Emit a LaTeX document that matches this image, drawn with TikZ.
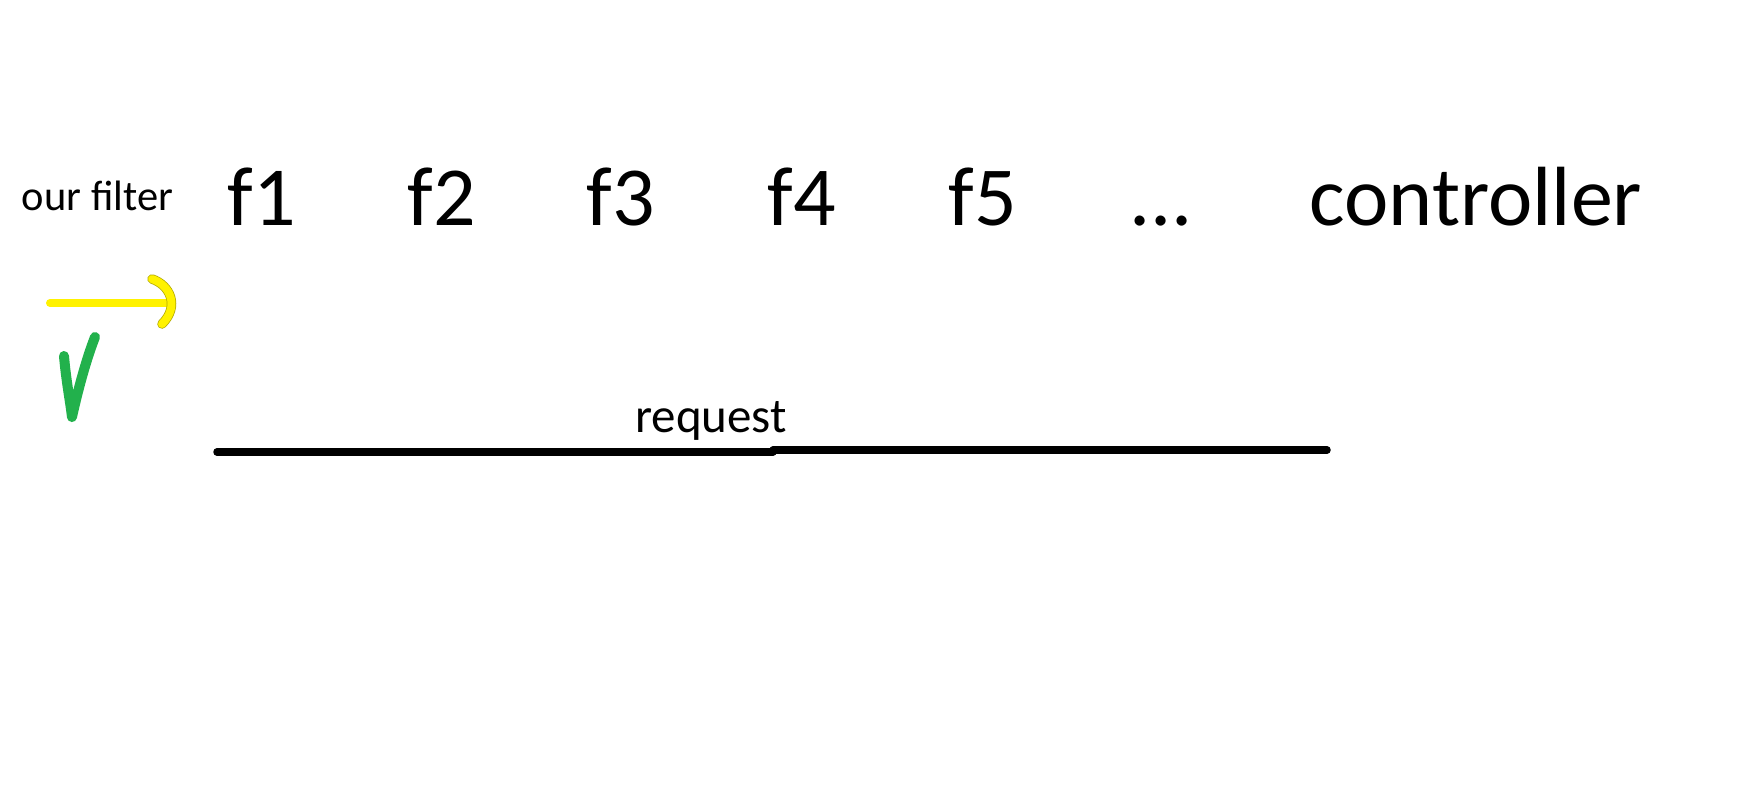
\documentclass[tikz,border=0pt]{standalone}
\usepackage{fontspec}
\setmainfont{Carlito}
\definecolor{pyellow}{RGB}{255,242,0}
\definecolor{pgreen}{RGB}{34,177,76}
\tikzset{
  lbl/.style={inner sep=0pt, anchor=base, font=\fontsize{84}{90}\selectfont},
  small/.style={inner sep=0pt, anchor=base, font=\fontsize{42.5}{48}\selectfont},
  req/.style={inner sep=0pt, anchor=base, font=\fontsize{49}{54}\selectfont},
  bar/.style={line width=7.5pt, line cap=round, black},
  hook/.style={line width=8pt, line cap=round, pyellow},
  tick/.style={line width=10pt, line cap=round, line join=round, pgreen}
}
\begin{document}
\begin{tikzpicture}[x=1pt,y=-1pt]
\useasboundingbox[fill=white] (0,0) rectangle (1761,804);
\node[small] (our) at (97.5,210) {our filter};
\node[lbl] (f1) at (262,225) {f1};
\node[lbl] (f2) at (442,225) {f2};
\node[lbl] (f3) at (621,225) {f3};
\node[lbl] (f4) at (802,225) {f4};
\node[lbl] (f5) at (983,225) {f5};
\node[lbl] (dots) at (1161,225) {...};
\node[lbl] (ctrl) at (1476,225) {controller};
\node[req] (request) at (711,432) {request};
% request line
\coordinate (r0) at (217,452);
\coordinate (r1) at (773,452);
\coordinate (r2) at (773,450);
\coordinate (r3) at (1327,450);
\draw[bar] (r0) -- (r1);
\draw[bar] (r2) -- (r3);
% yellow arrow
\coordinate (y0) at (50,303);
\coordinate (y1) at (170,303);
\draw[hook] (y0) -- (y1);
\draw[line width=9.5pt, line cap=round, black!30!pyellow] (152,279) .. controls (170,285) and (180,306) .. (162,324);
\draw[hook] (152,279) .. controls (170,285) and (180,306) .. (162,324);
% green tick
\draw[tick] (64,356) .. controls (66,380) and (70,400) .. (72,417) .. controls (78,390) and (86,360) .. (95,337);
\end{tikzpicture}
\end{document}
